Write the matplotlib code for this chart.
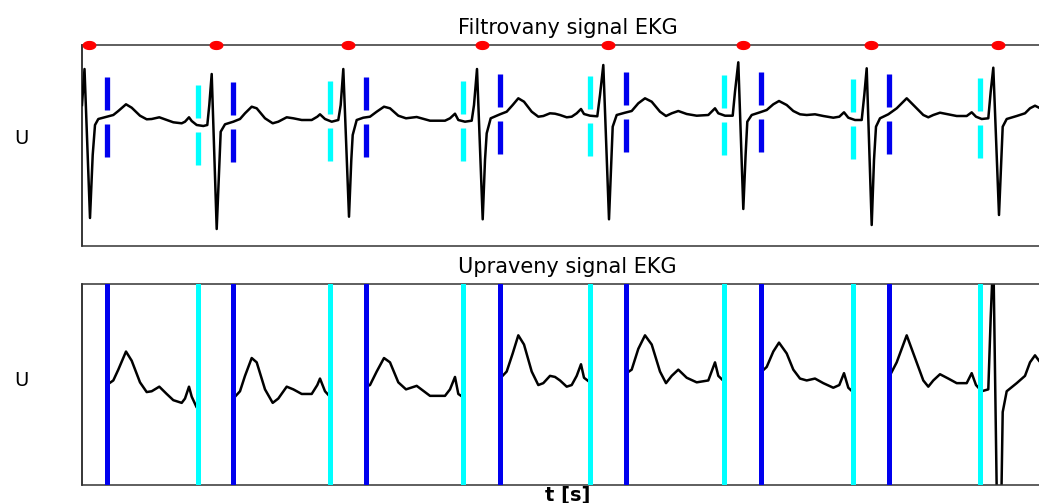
import numpy as np
import matplotlib
matplotlib.use('Agg')
import matplotlib.pyplot as plt
from matplotlib.patches import Rectangle

# vzorkovaci frekvence [Hz]
fs = 160

# filtrovany signal EKG: cislo vzorku a napeti [mV]
n = [0, 2.5, 8, 10.7, 13, 16.3, 24.7, 31.3, 36.3, 44, 49.7, 58, 64.7, 69.7, 77.3,
     84.7, 91.3, 99.7, 103, 107, 109.7, 114.7, 121.3, 125.3, 127.3, 129.7, 134.7,
     137.3, 138.7, 143, 151.3, 158, 163, 169.7, 174.7, 183, 190.7, 196.3, 204.7,
     211.3, 219.7, 229.7, 235.3, 238, 243, 249.7, 256.3, 258.7, 261.3, 267, 269.3,
     270.7, 274.7, 281.3, 288, 294.7, 302, 308, 316.3, 324, 334.7, 348, 363, 368,
     373, 376.3, 383, 389.7, 392, 395, 400.7, 403, 404.7, 408.7, 418, 424.7, 430.7,
     436.3, 442, 449.7, 456.3, 461.3, 468, 473, 478, 484.7, 489.7, 494.7, 499, 502,
     508, 515.3, 518, 521.3, 527, 529.3, 530.7, 534.7, 543, 549.7, 556.3, 563,
     569.7, 578, 584, 589.7, 596.3, 604.7, 614.7, 626.3, 633, 636.3, 643, 650.7,
     653, 656.3, 661.3, 663.6, 665.3, 669.7, 678, 684.7, 691.3, 697, 704.7, 711.3,
     718, 724.7, 733, 741.3, 751.3, 757.3, 762, 766.3, 773, 779.7, 782.3, 784.7,
     789.7, 792, 794, 798, 806.3, 814.7, 824.7, 833, 841.3, 846.3, 851.3, 858,
     866.3, 874.7, 884.7, 889.7, 894, 899.7, 906.3, 908.7, 911.3, 917, 919.3,
     920.7, 924.7, 934.7, 943, 948, 953, 957]
u = [0.15, 0.51, -0.98, -0.35, -0.05, 0.01, 0.033, 0.05, 0.09, 0.157, 0.123, 0.043,
     0.007, 0.01, 0.027, 0.0, -0.023, -0.033, -0.017, 0.027, -0.01, -0.05, -0.06,
     -0.05, 0.15, 0.46, -1.09, -0.45, -0.117, -0.043, -0.017, 0.01, 0.067, 0.133,
     0.117, 0.017, -0.033, -0.017, 0.027, 0.017, 0.0, 0.0, 0.033, 0.057, 0.01,
     -0.017, 0.0, 0.15, 0.51, -0.967, -0.4, -0.15, 0.0, 0.023, 0.033, 0.083, 0.133,
     0.117, 0.043, 0.017, 0.03, -0.007, -0.007, 0.017, 0.063, 0.0, -0.017, -0.007,
     0.15, 0.51, -0.993, -0.4, -0.133, 0.017, 0.057, 0.083, 0.15, 0.217, 0.183,
     0.083, 0.033, 0.04, 0.067, 0.063, 0.05, 0.027, 0.033, 0.067, 0.11, 0.06,
     0.043, 0.037, 0.25, 0.55, -0.993, -0.4, -0.067, 0.05, 0.073, 0.09, 0.167,
     0.217, 0.183, 0.083, 0.04, 0.067, 0.09, 0.06, 0.043, 0.05, 0.117, 0.067,
     0.043, 0.043, 0.283, 0.577, -0.89, -0.35, -0.017, 0.05, 0.077, 0.1, 0.157,
     0.19, 0.15, 0.09, 0.057, 0.05, 0.057, 0.04, 0.023, 0.033, 0.077, 0.023, 0.0,
     0.0, 0.25, 0.517, -1.05, -0.4, -0.067, 0.017, 0.057, 0.117, 0.217, 0.133,
     0.05, 0.027, 0.05, 0.073, 0.057, 0.04, 0.04, 0.077, 0.033, 0.01, 0.017, 0.283,
     0.523, -0.95, -0.4, -0.067, 0.01, 0.04, 0.067, 0.117, 0.143, 0.123]

# detekovane body (cisla vzorku)
qrs = [7, 134, 266, 400, 526, 661, 789, 916]          # cervene body
konec_qrs = [25, 151, 284, 418, 544, 679, 807]         # modre znacky
zacatek_qrs = [116, 248, 381, 508, 642, 771, 898]      # azurove znacky

t = np.array(n) / fs
t_qrs = np.array(qrs) / fs
t_kon = np.array(konec_qrs) / fs
t_zac = np.array(zacatek_qrs) / fs
t_max = 971 / fs

modra = '#0000ee'
azur = '#00ffff'
y1 = (-1.26, 0.75)
y2 = (-0.337, 0.407)

plt.rcParams['font.family'] = ['DejaVu Sans']

fig = plt.figure(figsize=(10.39, 5.03), dpi=100)
ax1 = fig.add_axes([82 / 1039, 257 / 503, 971 / 1039, 201 / 503])
ax2 = fig.add_axes([82 / 1039, 18 / 503, 971 / 1039, 201 / 503])

# --- horni graf: filtrovany signal ---
ax1.plot(t, u, color='k', lw=1.8, solid_joinstyle='round', zorder=2)
u_kon = np.interp(t_kon, t, u)
u_zac = np.interp(t_zac, t, u)
for tt, uu, c in [(t_kon, u_kon, modra), (t_zac, u_zac, azur)]:
    ax1.vlines(tt, uu + 0.07, uu + 0.40, color=c, lw=3.8, zorder=3)
    ax1.vlines(tt, uu - 0.40, uu - 0.07, color=c, lw=3.8, zorder=3)
ax1.set_xlim(0, t_max)
ax1.set_ylim(*y1)
a = np.linspace(0, 2 * np.pi, 40)
elipsa = list(zip(1.6 * np.cos(a), np.sin(a)))
ax1.plot(t_qrs, [y1[1]] * len(t_qrs), ls='none', marker=elipsa, ms=9,
         color='red', clip_on=False, zorder=5)
ax1.set_title('Filtrovany signal EKG', fontsize=15, pad=8)

# --- dolni graf: upraveny signal ---
for tt, c in [(t_kon, modra), (t_zac, azur)]:
    for x in tt:
        ax2.axvline(x, color=c, lw=3.6, zorder=3)
useky = list(zip(t_kon, t_zac)) + [(t_zac[-1], t_max)]
for a0, a1 in useky:
    line, = ax2.plot(t, u, color='k', lw=1.8, solid_joinstyle='round', zorder=2)
    line.set_clip_path(Rectangle((a0, y2[0]), a1 - a0, y2[1] - y2[0],
                                 transform=ax2.transData))
ax2.set_xlim(0, t_max)
ax2.set_ylim(*y2)
ax2.set_title('Upraveny signal EKG', fontsize=15, pad=8)
ax2.set_xlabel('t [s]', fontsize=14, fontweight='bold', labelpad=1)

for ax, yl in [(ax1, 0.537), (ax2, 0.522)]:
    ax.set_xticks([])
    ax.set_yticks([])
    ax.set_ylabel('U', rotation=0, fontsize=14, va='center', ha='center')
    ax.yaxis.set_label_coords(-0.0628, yl)
    ax.spines['right'].set_visible(False)
    ax.spines['left'].set_color('k')
    ax.spines['top'].set_color('#333333')
    ax.spines['bottom'].set_color('#333333')
    for s in ax.spines.values():
        s.set_linewidth(1.1)

fig.savefig('out.png', dpi=100)
